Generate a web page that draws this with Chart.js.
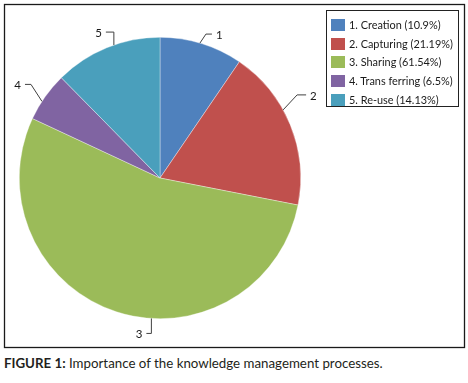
<!DOCTYPE html>
<html>
<head>
<meta charset="utf-8">
<script src="https://cdn.jsdelivr.net/npm/chart.js@4"></script>
<style>
  html, body { margin: 0; padding: 0; background: #fff; }
  #wrap { position: relative; width: 468px; height: 383px; overflow: hidden; }
  #pie { position: absolute; left: 0; top: 0; }
  #legend { position: absolute; left: 326px; top: 10px; width: 133px; height: 97px;
            border: 1px solid #222; box-sizing: border-box; font-family: Lato, sans-serif;
            font-size: 10.9px; color: #1a1a1a; }
  .item { position: absolute; left: 4px; height: 12px; line-height: 12px; white-space: nowrap; }
  .sw { display: inline-block; width: 14px; height: 12px; vertical-align: top; margin-right: 4px; }
  #caption { position: absolute; left: 4px; top: 355px; font-family: Lato, sans-serif;
             font-size: 13.3px; color: #231f20; white-space: nowrap; }
  #caption b { font-weight: 700; }
</style>
</head>
<body>
<div id="wrap">
  <canvas id="pie" width="468" height="352"></canvas>
  <div id="legend"></div>
  <div id="caption"><b>FIGURE 1:</b> Importance of the knowledge management processes.</div>
</div>
<script>
var processNames = ['1. Creation', '2. Capturing', '3. Sharing', '4. Trans ferring', '5. Re-use'];
var percentLabels = ['10.9%', '21.19%', '61.54%', '6.5%', '14.13%'];
var importance = [10.9, 21.19, 61.54, 6.5, 14.13];
var sliceLabels = ['1', '2', '3', '4', '5'];
var sliceColors = ['#4f81bd', '#c0504d', '#9bbb59', '#8064a2', '#4a9fbc'];

// leader line layout: where on the arc it starts (fraction of slice), elbow and tail offsets
var leaderFrac = [0.48, 0.40, 0.425, 0.39, 0.57];
var leaderElbow = [[6, -9], [14, -15], [0, 15], [-11, -17], [0, -13]];
var leaderTail = [6, 9, -5, -6, -8];

var legendEl = document.getElementById('legend');
processNames.forEach(function (name, i) {
  var row = document.createElement('div');
  row.className = 'item';
  row.style.top = (8 + i * 18.7) + 'px';
  row.innerHTML = '<span class="sw" style="background:' + sliceColors[i] + '"></span>' +
    name + ' (' + percentLabels[i] + ')';
  legendEl.appendChild(row);
});

var framePlugin = {
  id: 'frameAndLeaders',
  afterDraw: function (chart) {
    var ctx = chart.ctx;
    ctx.save();
    ctx.strokeStyle = '#1a1a1a';
    ctx.lineWidth = 1.3;
    ctx.strokeRect(4.5, 4.5, 460, 343);

    var arcs = chart.getDatasetMeta(0).data;
    ctx.strokeStyle = '#404040';
    ctx.lineWidth = 1;
    ctx.fillStyle = '#1a1a1a';
    ctx.font = '11.5px Lato, sans-serif';
    ctx.textBaseline = 'middle';
    arcs.forEach(function (arc, i) {
      var p = arc.getProps(['x', 'y', 'startAngle', 'endAngle', 'outerRadius'], true);
      var a = p.startAngle + (p.endAngle - p.startAngle) * leaderFrac[i];
      var ax = p.x + Math.cos(a) * p.outerRadius;
      var ay = p.y + Math.sin(a) * p.outerRadius;
      var ex = ax + leaderElbow[i][0];
      var ey = ay + leaderElbow[i][1];
      var tx = ex + leaderTail[i];
      ctx.beginPath();
      ctx.moveTo(ax, ay);
      ctx.lineTo(ex, ey);
      ctx.lineTo(tx, ey);
      ctx.stroke();
      var right = leaderTail[i] > 0;
      ctx.textAlign = right ? 'left' : 'right';
      ctx.fillText(sliceLabels[i], tx + (right ? 4 : -4), ey + 1);
    });
    ctx.restore();
  }
};

var pieChart = new Chart(document.getElementById('pie'), {
  type: 'pie',
  data: {
    labels: processNames,
    datasets: [{
      data: importance,
      backgroundColor: sliceColors,
      borderColor: 'rgba(255,255,255,0.6)',
      borderWidth: 0.6
    }]
  },
  options: {
    responsive: false,
    animation: false,
    layout: { padding: { left: 19, top: 37, right: 167, bottom: 33 } },
    plugins: {
      legend: { display: false },
      tooltip: { enabled: false }
    }
  },
  plugins: [framePlugin]
});
</script>
</body>
</html>
